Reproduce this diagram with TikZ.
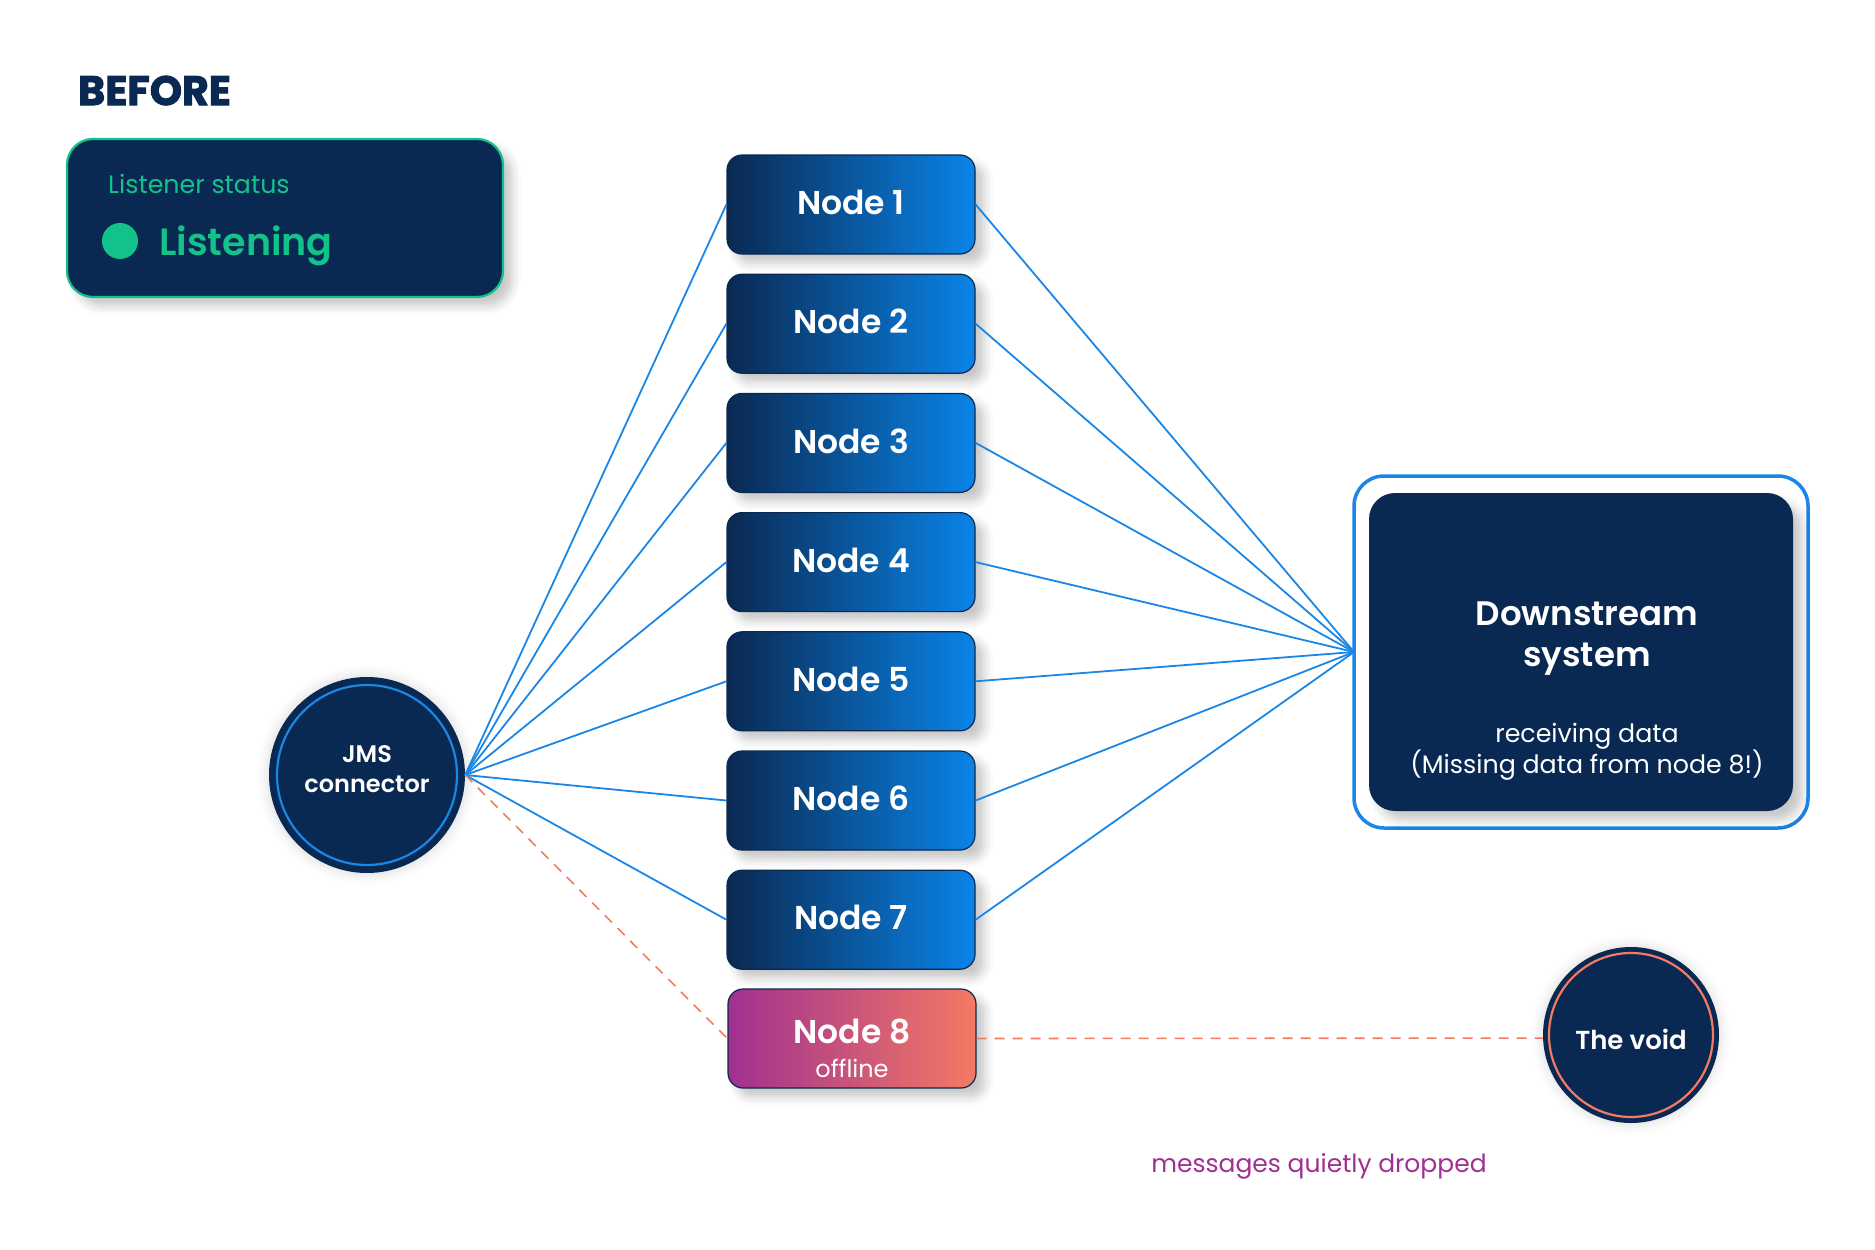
\documentclass[tikz,border=0pt]{standalone}
\usepackage{fontspec}
\setmainfont{Poppins}[BoldFont={Poppins SemiBold}]
\newfontfamily\heavyfont{Poppins}[UprightFont={* Bold}, FakeBold=2.5]
\usetikzlibrary{shadows.blur}
\definecolor{navy}{HTML}{0A2952}
\definecolor{bblue}{HTML}{0A84E8}
\definecolor{lineblue}{HTML}{1A86E6}
\definecolor{mint}{HTML}{12C28A}
\definecolor{coral}{HTML}{F47A64}
\definecolor{plum}{HTML}{A0308F}
\begin{document}
\begin{tikzpicture}[x=1pt,y=-1pt,
  shad/.style={blur shadow={shadow xshift=9pt, shadow yshift=-9pt, shadow opacity=22, shadow blur radius=9pt}},
  glow/.style={blur shadow={shadow xshift=0pt, shadow yshift=0pt, shadow opacity=10, shadow blur radius=8pt, shadow scale=1.04}},
  nbox/.style={rectangle, rounded corners=15pt, minimum width=248pt, minimum height=99pt, inner sep=0pt,
    draw=navy, line width=1.2pt, left color=navy, middle color=navy!62!bblue, right color=bblue,
    text=white, font=\fontsize{33}{38}\selectfont\bfseries, text depth=4pt, shad},
  offbox/.style={nbox, left color=plum, middle color=plum!50!coral, right color=coral},
  fanline/.style={draw=lineblue, line width=1.8pt},
  dropline/.style={draw=coral, line width=1.6pt, dash pattern=on 10pt off 8pt},
  bigcircle/.style={circle, fill=navy, inner sep=0pt, text=white, align=center, glow}
]
\useasboundingbox (0,0) rectangle (1875,1250);

% title
\node[anchor=base west, inner sep=0pt, text=navy, font=\fontsize{41}{41}\heavyfont] (title) at (78,105) {BEFORE};

% listener status box
\node[rectangle, rounded corners=26pt, fill=navy, draw=mint, line width=2.2pt, minimum width=436pt, minimum height=158pt, inner sep=0pt, shad] (status) at (285,218) {};
\node[anchor=base west, inner sep=0pt, text=mint, font=\fontsize{25.3}{26}\selectfont] (stlabel) at (108,193) {Listener status};
\node[circle, fill=mint, minimum size=36pt, inner sep=0pt] (dot) at (120,241) {};
\node[anchor=base west, inner sep=0pt, text=mint, font=\fontsize{38}{40}\selectfont\bfseries] (stval) at (159,255) {Listening};

% nodes 1-7
\foreach \i in {1,...,7} {
  \node[nbox] (n\i) at (851,{204.5+(\i-1)*119.2}) {Node \i};
}
% node 8
\node[offbox, align=center] (n8) at (852,1038.5) {};
\node[text=white, font=\fontsize{33}{38}\selectfont\bfseries, inner sep=0pt, anchor=base] (n8t) at (852,1043) {Node 8};
\node[text=white, font=\fontsize{24}{28}\selectfont, inner sep=0pt, anchor=base] (n8s) at (852,1077) {offline};

% JMS connector
\node[bigcircle, minimum size=196pt] (jms) at (367,775) {};
\node[text=white, align=center, inner sep=0pt, font=\fontsize{24}{30}\selectfont\bfseries] (jmst) at (367,769) {JMS\\connector};
\draw[lineblue, line width=2.2pt] (jms.center) circle[radius=90pt];

% Downstream system
\draw[lineblue, line width=3.5pt, rounded corners=30pt] (1354,476) rectangle (1808,828);
\node[rectangle, rounded corners=26pt, fill=navy, minimum width=424pt, minimum height=318pt, inner sep=0pt, shad] (ds) at (1581,652) {};
\node[text=white, align=center, font=\fontsize{34}{41}\selectfont\bfseries, inner sep=0pt] (dstitle) at (1587,639) {Downstream\\system};
\node[text=white, align=center, font=\fontsize{25.3}{30}\selectfont, inner sep=0pt] (dssub) at (1587,752) {receiving data\\(Missing data from node 8!)};
\coordinate (dsin) at (1354,652);

% The void
\node[bigcircle, minimum size=176pt] (void) at (1631,1035) {};
\node[text=white, inner sep=0pt, font=\fontsize{26}{30}\selectfont\bfseries] (voidt) at (1631,1039) {The void};
\draw[coral, line width=2.2pt] (void.center) circle[radius=82pt];

% connectors
\foreach \i in {1,...,7} {
  \draw[fanline] (jms.east) -- (n\i.west);
  \draw[fanline] (n\i.east) -- (dsin);
}
\draw[dropline] (jms.east) -- (n8.west);
\draw[dropline] (n8.east) -- (void.182);

\node[anchor=base, inner sep=0pt, text=plum, font=\fontsize{25}{26}\selectfont] (drop) at (1319,1172) {messages quietly dropped};
\end{tikzpicture}
\end{document}
